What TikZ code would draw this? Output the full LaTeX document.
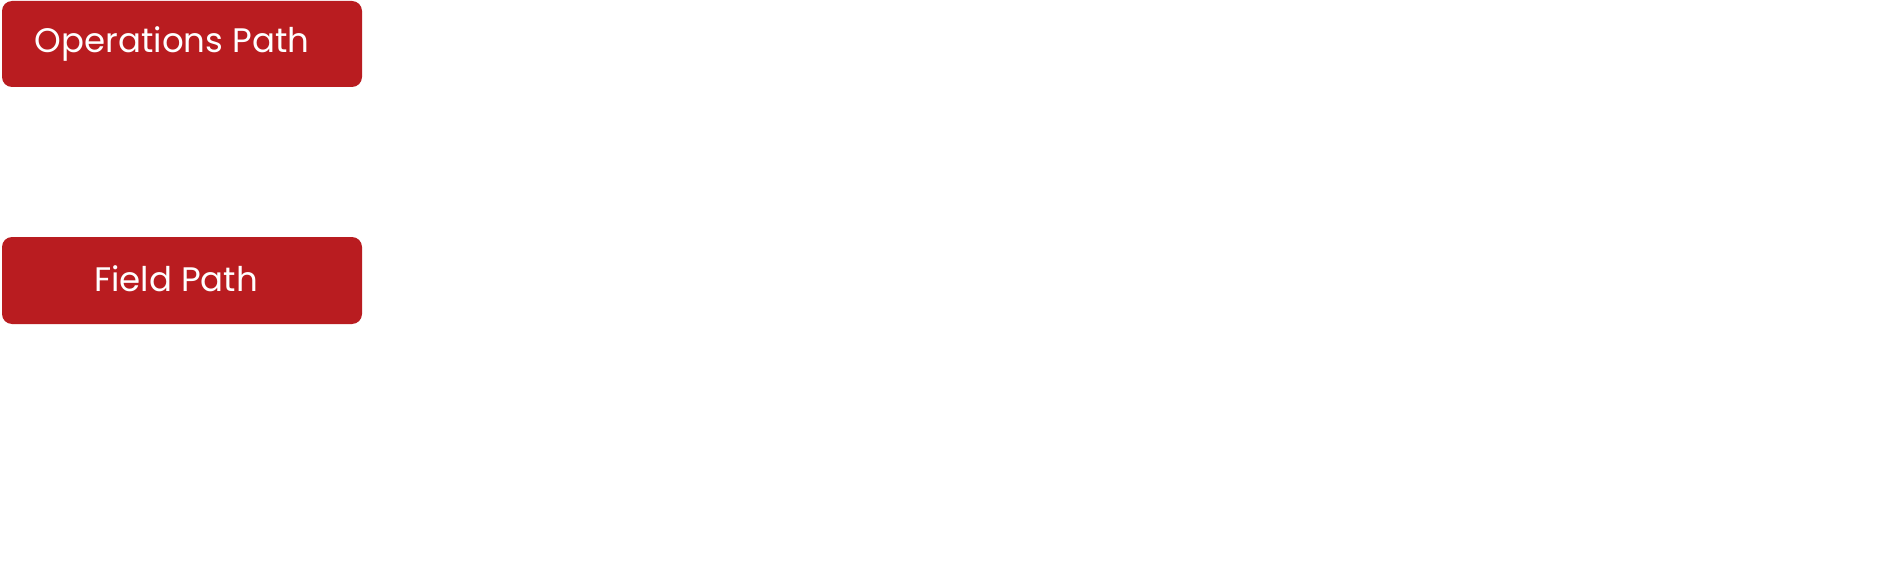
\documentclass[tikz,border=0pt]{standalone}
\usepackage{fontspec}
\setmainfont{Poppins}
\definecolor{pathred}{RGB}{185,28,32}
\tikzset{
  pathbox/.style={fill=pathred, draw=none, rounded corners=10pt, minimum width=360pt, minimum height=86pt, inner sep=0pt},
  pathlabel/.style={text=white, font=\fontsize{34}{40}\selectfont, anchor=base, inner sep=0pt}
}
\begin{document}
\begin{tikzpicture}[x=1pt,y=-1pt]
\useasboundingbox[fill=white] (0,0) rectangle (1899,583);
\node[pathbox] (ops) at (182,44) {};
\node[pathlabel] (opstext) at (172,53) {Operations Path};
\node[pathbox, minimum height=87pt] (field) at (182,280.5) {};
\node[pathlabel] (fieldtext) at (176,291) {Field Path};
\end{tikzpicture}
\end{document}
